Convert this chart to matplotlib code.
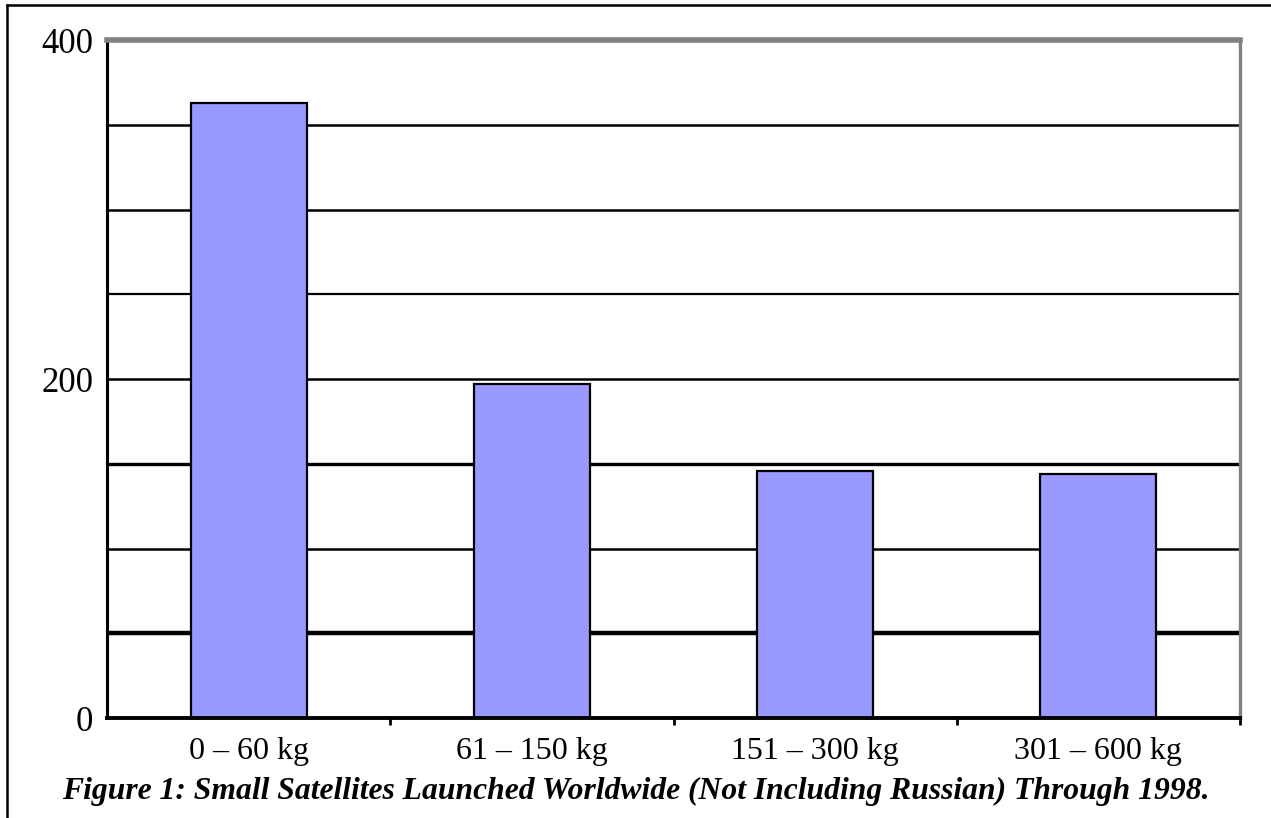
import numpy as np
import matplotlib.pyplot as plt
from matplotlib.lines import Line2D

categories = ["0 – 60 kg", "61 – 150 kg", "151 – 300 kg", "301 – 600 kg"]
counts = [363, 197, 146, 144]
grid_levels = [50, 100, 150, 200, 250, 300, 350]
grid_widths = [3.2, 1.8, 2.4, 1.8, 1.6, 1.8, 1.8]
ytick_vals = [0, 200, 400]
caption = "Figure 1: Small Satellites Launched Worldwide (Not Including Russian) Through 1998."

plt.rcParams['font.family'] = ['Liberation Serif', 'DejaVu Serif']

fig = plt.figure(figsize=(12.71, 8.18), dpi=100)
ax = fig.add_axes([0.0842, 0.1222, 0.8914, 0.8289])

x = np.arange(len(categories))
ax.set_xlim(-0.5, len(categories) - 0.5)
ax.set_ylim(0, 400)

for lvl, w in zip(grid_levels, grid_widths):
    ax.axhline(lvl, color="black", lw=w, zorder=1)

ax.bar(x, counts, width=0.41, color="#9999FF", edgecolor="black", linewidth=1.6, zorder=2)

ax.set_xticks(x)
ax.set_xticklabels(categories, fontsize=23)
ax.set_xticks(np.arange(len(categories)) + 0.5, minor=True)
ax.tick_params(axis="x", which="major", length=0, pad=14)
ax.tick_params(axis="x", which="minor", length=5, width=2, direction="out")

ax.set_yticks(ytick_vals)
ax.set_yticklabels([str(v) for v in ytick_vals], fontsize=25)
ax.tick_params(axis="y", length=0, pad=10)

ax.spines["left"].set_linewidth(2.2)
ax.spines["bottom"].set_linewidth(2.8)
ax.spines["top"].set_color("#808080")
ax.spines["top"].set_linewidth(4)
ax.spines["right"].set_color("#808080")
ax.spines["right"].set_linewidth(2.4)

fig.text(0.5, 0.033, caption, ha="center", va="center", fontsize=22.8,
         fontweight="bold", style="italic")

# page frame: only left and top edges are visible
fig.add_artist(Line2D([0.0055, 0.0055], [0.0, 0.9939], transform=fig.transFigure, color="black", lw=1.8))
fig.add_artist(Line2D([0.0055, 1.0], [0.9939, 0.9939], transform=fig.transFigure, color="black", lw=1.8))

plt.savefig("out.png", dpi=100)
